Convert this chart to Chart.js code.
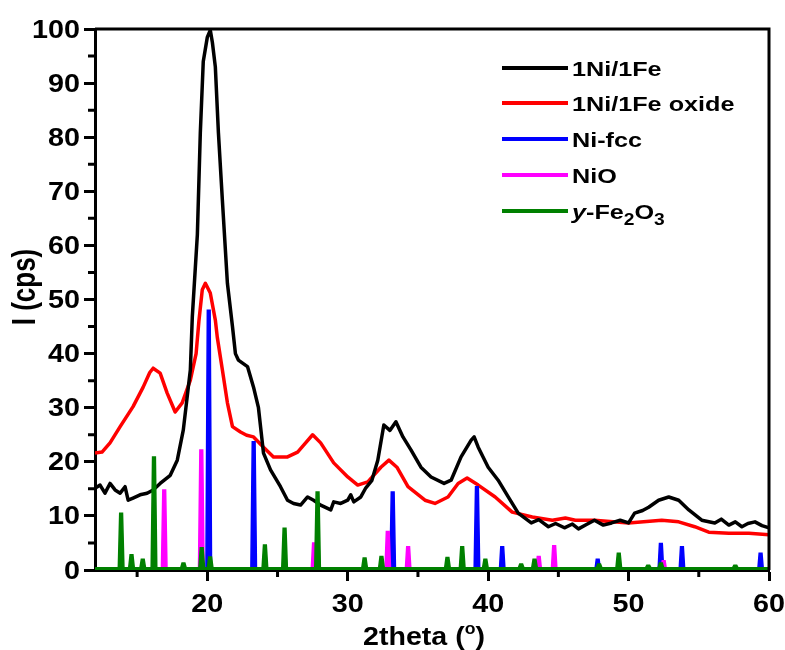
<!DOCTYPE html>
<html>
<head>
<meta charset="utf-8">
<script src="https://cdn.jsdelivr.net/npm/chart.js@4.4.1/dist/chart.umd.min.js"></script>
<style>
body{margin:0;background:#fff;}
#wrap{width:785px;height:650px;position:relative;}
</style>
</head>
<body>
<div id="wrap"><canvas id="xrd"></canvas></div>
<script>
// axis ticks
const xTicks = [20, 30, 40, 50, 60];
const yTicks = [0, 10, 20, 30, 40, 50, 60, 70, 80, 90, 100];
const xMinor = [15, 25, 35, 45, 55];
const yMinor = [5, 15, 25, 35, 45, 55, 65, 75, 85, 95];

const seriesNames = ["1Ni/1Fe", "1Ni/1Fe oxide", "Ni-fcc", "NiO", "y-Fe2O3"];
const seriesColors = ["#000000", "#ff0000", "#0000ff", "#ff00ff", "#008000"];

// measured patterns [2theta, cps]
const ni1fe1 = [
[12.0,15.1],[12.36,15.7],[12.71,14.2],[13.07,16.0],[13.43,14.8],[13.79,14.2],[14.14,15.4],[14.36,12.9],
[14.71,13.3],[15.21,13.9],[15.71,14.2],[16.14,14.8],[16.64,16.0],[17.36,17.5],[17.86,20.3],[18.29,25.9],
[18.79,37],[18.93,46.8],[19.29,62],[19.5,80.8],[19.71,94],[20.0,98.5],[20.21,99.8],[20.36,97.5],
[20.57,93],[20.79,80.8],[21.07,68.4],[21.43,53],[21.79,45],[22.0,40],[22.21,38.8],[22.86,37.6],
[23.29,33.8],[23.64,30],[24.0,21.6],[24.5,18.5],[25.21,15.4],[25.71,12.9],[26.14,12.3],[26.64,12.0],
[27.14,13.5],[27.57,12.9],[28.07,12.0],[28.79,11.1],[29.0,12.6],[29.5,12.3],[30.0,12.9],[30.21,13.9],
[30.43,12.6],[30.93,13.5],[31.29,15.2],[31.71,16.5],[32.14,20.3],[32.57,26.8],[33.0,25.8],[33.43,27.4],
[33.93,24.6],[34.5,22.2],[35.21,19.0],[35.93,17.2],[36.86,16.0],[37.36,16.6],[38.07,20.9],[38.79,24.0],
[39.0,24.6],[39.29,22.7],[40.0,19.0],[40.71,16.6],[41.43,13.5],[42.14,10.5],[43.07,8.7],[43.6,9.3],
[44.29,8.0],[44.8,8.6],[45.43,7.8],[46.0,8.5],[46.43,7.6],[47.0,8.4],[47.57,9.2],[48.2,8.3],
[48.79,8.7],[49.4,9.2],[50.0,8.7],[50.43,10.5],[51.0,11.0],[51.43,11.6],[52.14,12.9],[52.86,13.5],
[53.57,12.9],[54.29,11.1],[55.21,9.2],[56.14,8.7],[56.6,9.4],[57.14,8.3],[57.6,8.9],[58.07,8.0],
[58.5,8.6],[59.0,8.9],[59.5,8.2],[60.0,7.8]
];
const ni1fe1Oxide = [
[12.0,21.6],[12.5,21.8],[13.07,23.5],[13.79,26.5],[14.71,30.2],[15.43,33.8],[15.9,36.5],[16.14,37.3],
[16.64,36.4],[17.14,32.7],[17.71,29.2],[18.21,30.9],[18.79,35.1],[19.2,40],[19.4,46],[19.64,51.8],
[19.86,53],[20.21,51.2],[20.57,46.2],[20.71,43],[21.07,37],[21.43,30.9],[21.79,26.5],[22.36,25.5],
[22.8,24.9],[23.29,24.6],[24.0,22.7],[24.71,20.9],[25.71,20.9],[26.43,21.8],[27.0,23.5],[27.5,25],
[28.07,23.5],[29.0,19.8],[30.0,17.2],[30.71,15.7],[31.43,16.3],[32.36,19.0],[32.93,20.3],[33.5,19.0],
[34.29,15.4],[35.5,12.9],[36.21,12.3],[37.14,13.5],[37.86,16.0],[38.5,17.0],[39.29,15.7],[40.5,13.5],
[41.71,10.7],[43.14,9.8],[44.57,9.2],[45.5,9.6],[46.21,9.2],[47.57,9.2],[50.0,8.7],[51.5,9.0],
[52.36,9.2],[53.57,8.9],[54.71,8.0],[55.71,7.0],[57.14,6.8],[58.57,6.8],[60.0,6.5]
];

// reference peaks [position, height]
const niFccPeaks = [[20.1,48],[23.3,23.7],[33.2,14.4],[39.2,15.4],[41.0,4.3],[47.8,2.0],[52.3,4.9],[53.8,4.3],[59.4,3.1]];
const nioPeaks = [[16.93,14.8],[19.57,22.2],[27.6,5.0],[32.85,7.1],[34.3,4.3],[43.6,2.5],[44.7,4.5],[52.5,1.7]];
const feOxPeaks = [[13.86,10.5],[14.6,2.8],[15.4,2.0],[16.2,20.9],[18.3,1.3],[19.6,4.1],[20.2,2.4],[24.1,4.6],
[25.5,7.7],[27.85,14.4],[31.2,2.2],[32.4,2.5],[37.1,2.3],[38.15,4.3],[39.8,2.0],[42.35,1.1],[43.3,2.0],
[47.9,1.1],[49.3,3.1],[51.4,0.9],[52.3,1.3],[57.6,0.9]];

const FONT = "'Liberation Sans', Arial, sans-serif";

function toPts(arr){ return arr.map(p=>({x:p[0], y:p[1]})); }

function sticks(peaks, base){
  const pts = [{x:12, y:base}];
  peaks.forEach(([c,h])=>{
    pts.push({x:c-0.2,y:base},{x:c-0.1,y:h},{x:c+0.1,y:h},{x:c+0.2,y:base});
  });
  pts.push({x:60, y:base});
  return pts;
}

function runs(ctx, parts, x, y, sx, align){
  let w = 0;
  parts.forEach(p=>{ ctx.font = p.f; p.w = ctx.measureText(p.t).width; w += p.w; });
  ctx.save();
  ctx.translate(x, y);
  ctx.scale(sx, 1);
  let cx = align==="center" ? -w/2 : align==="right" ? -w : 0;
  ctx.textAlign = "left";
  ctx.textBaseline = "alphabetic";
  ctx.fillStyle = "#000";
  parts.forEach(p=>{ ctx.font = p.f; ctx.fillText(p.t, cx, p.dy||0); cx += p.w; });
  ctx.restore();
}

const decor = {
  id: "decor",
  afterDraw(chart){
    const {ctx, chartArea:a, scales:{x, y}} = chart;
    ctx.save();
    ctx.strokeStyle = "#000";
    ctx.lineWidth = 3;
    ctx.beginPath();
    ctx.moveTo(a.left, a.top); ctx.lineTo(a.right, a.top); ctx.lineTo(a.right, a.bottom);
    ctx.stroke();

    // minor ticks
    ctx.beginPath();
    xMinor.forEach(v=>{ const px = x.getPixelForValue(v); ctx.moveTo(px, a.bottom); ctx.lineTo(px, a.bottom+7); });
    yMinor.forEach(v=>{ const py = y.getPixelForValue(v); ctx.moveTo(a.left, py); ctx.lineTo(a.left-7, py); });
    ctx.stroke();
    ctx.restore();

    // tick labels
    const tf = "bold 25px " + FONT;
    x.ticks.forEach(t=>runs(ctx, [{t:String(t.value), f:tf}], x.getPixelForValue(t.value), 612, 1.15, "center"));
    y.ticks.forEach(t=>runs(ctx, [{t:String(t.value), f:tf}], 80, y.getPixelForValue(t.value)+8.5, 1.15, "right"));

    // axis titles
    runs(ctx, [
      {t:"2theta (", f:"bold 26px "+FONT},
      {t:"o", f:"bold 16px "+FONT, dy:-11},
      {t:")", f:"bold 26px "+FONT}
    ], 424, 645, 1.1, "center");

    ctx.save();
    ctx.translate(35, 287);
    ctx.rotate(-Math.PI/2);
    ctx.scale(1, 1.25);
    ctx.font = "bold 26px " + FONT;
    ctx.fillStyle = "#000";
    ctx.textAlign = "center";
    ctx.textBaseline = "alphabetic";
    ctx.fillText("I (cps)", 0, 0);
    ctx.restore();

    // legend
    const rows = [68, 103, 139, 175, 211];
    const lf = "bold 21px " + FONT;
    seriesNames.forEach((name, i)=>{
      ctx.save();
      ctx.strokeStyle = seriesColors[i];
      ctx.lineWidth = 4;
      ctx.beginPath(); ctx.moveTo(502, rows[i]); ctx.lineTo(568, rows[i]); ctx.stroke();
      ctx.restore();
      if (i < 4) {
        runs(ctx, [{t:name, f:lf}], 572, rows[i]+8, 1.2, "left");
      } else {
        runs(ctx, [
          {t:"y", f:"italic bold 21px "+FONT},
          {t:"-Fe", f:lf},
          {t:"2", f:"bold 16px "+FONT, dy:6},
          {t:"O", f:lf},
          {t:"3", f:"bold 16px "+FONT, dy:6}
        ], 572, rows[i]+8, 1.2, "left");
      }
    });
  }
};

const lineBase = {pointRadius:0, tension:0, fill:false, borderJoinStyle:"round"};

new Chart(document.getElementById("xrd"), {
  type: "line",
  data: {
    datasets: [
      Object.assign({label:seriesNames[0], data:toPts(ni1fe1), borderColor:seriesColors[0], borderWidth:3.5, order:3}, lineBase),
      Object.assign({label:seriesNames[1], data:toPts(ni1fe1Oxide), borderColor:seriesColors[1], borderWidth:3.5, order:4}, lineBase),
      {label:seriesNames[2], data:sticks(niFccPeaks, 0), borderColor:seriesColors[2], backgroundColor:seriesColors[2], borderWidth:1.5, pointRadius:0, tension:0, fill:"origin", order:2},
      {label:seriesNames[3], data:sticks(nioPeaks, 0), borderColor:seriesColors[3], backgroundColor:seriesColors[3], borderWidth:1.5, pointRadius:0, tension:0, fill:"origin", order:1},
      {label:seriesNames[4], data:sticks(feOxPeaks, 0.4), borderColor:seriesColors[4], backgroundColor:seriesColors[4], borderWidth:1.5, pointRadius:0, tension:0, fill:"origin", order:0}
    ]
  },
  options: {
    responsive: true,
    maintainAspectRatio: false,
    animation: false,
    events: [],
    layout: {padding: {left:0, right:16, top:29, bottom:0}},
    plugins: {legend:{display:false}, tooltip:{enabled:false}},
    scales: {
      x: {
        type: "linear", min: 12, max: 60,
        afterBuildTicks: s=>{ s.ticks = xTicks.map(v=>({value:v})); },
        afterFit: s=>{ s.height = 80; },
        ticks: {display:false},
        grid: {drawOnChartArea:false, drawTicks:true, tickLength:11, tickWidth:3, tickColor:"#000"},
        border: {display:true, color:"#000", width:3}
      },
      y: {
        type: "linear", min: 0, max: 100,
        afterBuildTicks: s=>{ s.ticks = yTicks.map(v=>({value:v})); },
        afterFit: s=>{ s.width = 95; },
        ticks: {display:false},
        grid: {drawOnChartArea:false, drawTicks:true, tickLength:11, tickWidth:3, tickColor:"#000"},
        border: {display:true, color:"#000", width:3}
      }
    }
  },
  plugins: [decor]
});
</script>
</body>
</html>
